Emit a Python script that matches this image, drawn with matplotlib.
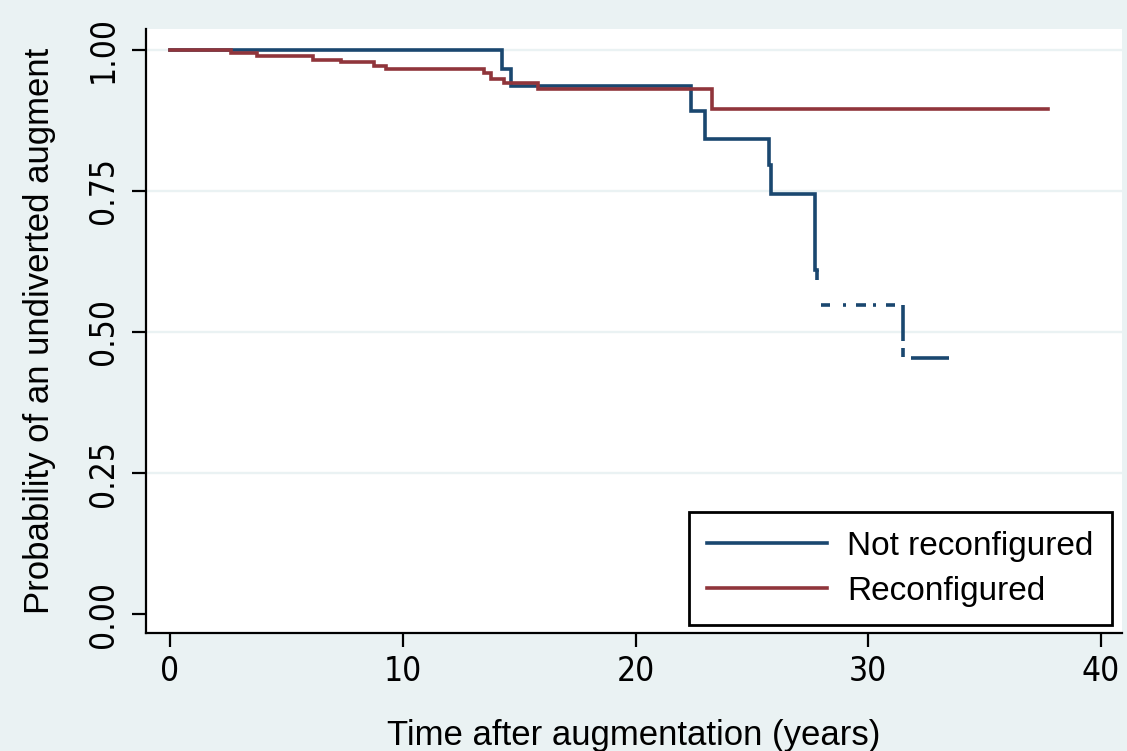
import numpy as np
import matplotlib
matplotlib.use("Agg")
import matplotlib.pyplot as plt

# Kaplan-Meier estimates (time in years, survival probability)
blue_label = "Not reconfigured"
blue_times = [0.0, 14.25, 14.66, 22.4, 23.0, 25.72, 25.83, 27.7, 27.8, 31.47]
blue_surv = [1.0, 0.966, 0.936, 0.891, 0.843, 0.796, 0.745, 0.610, 0.547, 0.454]
blue_end = 33.5

red_label = "Reconfigured"
red_times = [0.0, 2.63, 3.75, 6.16, 7.33, 8.75, 9.27, 13.5, 13.8, 14.35, 15.8, 23.28]
red_surv = [1.0, 0.995, 0.989, 0.983, 0.978, 0.972, 0.966, 0.960, 0.948, 0.942, 0.930, 0.896]
red_end = 37.7

x_ticks = [0, 10, 20, 30, 40]
y_ticks = [0.00, 0.25, 0.50, 0.75, 1.00]
x_title = "Time after augmentation (years)"
y_title = "Probability of an undiverted augment"

NAVY = "#1a476f"
MAROON = "#90353b"
BG = "#eaf2f3"

plt.rcParams["lines.scale_dashes"] = False
TEXT_FONT = ["Liberation Sans", "DejaVu Sans"]
TICK_FONT = ["DejaVu Sans"]


def step_path(times, surv, end):
    xs, ys = [times[0]], [surv[0]]
    for i in range(1, len(times)):
        xs += [times[i], times[i]]
        ys += [surv[i - 1], surv[i]]
    xs.append(end)
    ys.append(surv[-1])
    return np.array(xs), np.array(ys)


fig = plt.figure(figsize=(11.27, 7.51), dpi=100, facecolor=BG)
ax = fig.add_axes([0.1295, 0.1571, 0.8661, 0.8043])
ax.set_facecolor("white")

ax.set_xlim(-1.03, 40.9)
ax.set_ylim(-0.0337, 1.0372)

for g in y_ticks[1:]:
    ax.axhline(g, color=BG, lw=1.7, zorder=1)

LW = 2.6

# Not reconfigured: solid up to the late drop, broken trace afterwards
bx, by = step_path(blue_times, blue_surv, blue_end)
k = blue_times.index(27.8)
split = 2 * k - 1
ax.plot(bx[:split + 1], by[:split + 1], color=NAVY, lw=LW, zorder=3,
        solid_joinstyle="miter", label=blue_label)
dash_px = [10, 29, 9, 13, 3, 10, 10, 7, 3, 10, 9, 8, 36, 7, 9, 9, 38, 60]
tail, = ax.plot(bx[split:], by[split:], color=NAVY, lw=LW, zorder=3,
                dash_capstyle="butt", dash_joinstyle="miter")
tail.set_dashes([v * 0.72 for v in dash_px])

rx, ry = step_path(red_times, red_surv, red_end)
ax.plot(rx, ry, color=MAROON, lw=LW, zorder=4, solid_joinstyle="miter",
        label=red_label)

for s in ["top", "right"]:
    ax.spines[s].set_visible(False)
for s in ["left", "bottom"]:
    ax.spines[s].set_linewidth(1.6)
    ax.spines[s].set_color("black")

ax.set_xticks(x_ticks)
ax.set_xticklabels([str(v) for v in x_ticks])
ax.set_yticks(y_ticks)
ax.set_yticklabels([f"{v:.2f}" for v in y_ticks])
ax.tick_params(axis="both", direction="out", length=10, width=1.6,
               color="black", labelsize=24, labelcolor="black")
ax.tick_params(axis="x", pad=6)
ax.tick_params(axis="y", pad=9)
for lab in ax.get_xticklabels():
    lab.set_family(TICK_FONT)
    lab.set_stretch("condensed")
for lab in ax.get_yticklabels():
    lab.set_family(TICK_FONT)
    lab.set_stretch("condensed")
    lab.set_rotation(90)
    lab.set_va("center")

ax.set_xlabel(x_title, fontsize=25, family=TEXT_FONT, labelpad=22)
ax.set_ylabel(y_title, fontsize=25, family=TEXT_FONT, labelpad=22)

leg = ax.legend(loc="lower right", bbox_to_anchor=(0.9898, 0.0132),
                borderaxespad=0, frameon=True, fancybox=False,
                prop={"family": TEXT_FONT, "size": 24},
                handlelength=3.6, handletextpad=0.6, labelspacing=0.42,
                borderpad=0.55)
leg.get_frame().set_edgecolor("black")
leg.get_frame().set_linewidth(2.0)
leg.get_frame().set_facecolor("white")
leg.get_frame().set_alpha(1)

fig.savefig("out.png", dpi=100, facecolor=BG)
